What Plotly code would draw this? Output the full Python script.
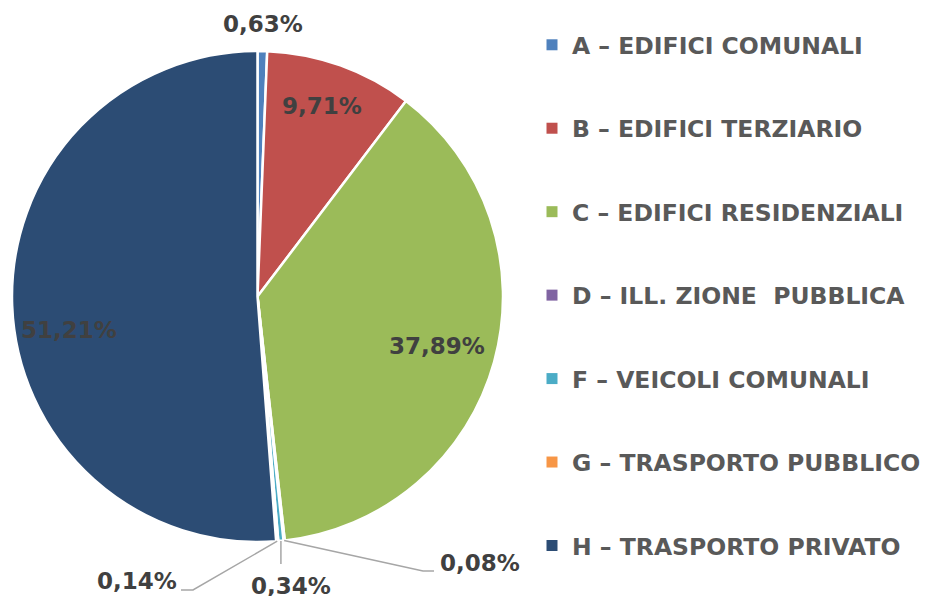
import math
import plotly.graph_objects as go

# data
categories = ['A – EDIFICI COMUNALI', 'B – EDIFICI TERZIARIO', 'C – EDIFICI RESIDENZIALI',
              'D – ILL. ZIONE  PUBBLICA', 'F – VEICOLI COMUNALI', 'G – TRASPORTO PUBBLICO',
              'H – TRASPORTO PRIVATO']
shares = [0.63, 9.71, 37.89, 0.08, 0.34, 0.14, 51.21]
colors = ['#4F81BD', '#C0504D', '#9BBB59', '#8064A2', '#4BACC6', '#F79646', '#2C4C74']

W, H = 927, 596
cx, cy, R = 257.5, 296.5, 245.5
FONT = 'DejaVu Sans'
TXT = '#404040'


def px(x):
    return x / W


def py(y):
    return 1 - y / H


def pct(v):
    return f"{v:.2f}".replace('.', ',') + '%'


fig = go.Figure()
fig.add_trace(go.Pie(
    labels=categories, values=shares, sort=False, direction='clockwise', rotation=0,
    marker=dict(colors=colors, line=dict(color='white', width=2.5)),
    textinfo='none', showlegend=False,
    domain=dict(x=[px(cx - R), px(cx + R)], y=[py(cy + R), py(cy - R)]),
    hovertemplate='%{label}: %{value}%<extra></extra>'))

# legend entries (dummy traces so the entry spacing can be set)
for i, (c, col) in enumerate(zip(categories, colors)):
    fig.add_trace(go.Scatter(x=[None], y=[None], mode='markers', name=c,
                             legendgroup=f'g{i}',
                             marker=dict(symbol='square', size=11, color=col)))

# mid angle of every slice, clockwise from 12 o'clock
tot = sum(shares)
mids = []
acc = 0
for v in shares:
    mids.append((acc + v / 2) / tot * 2 * math.pi)
    acc += v


def at(i, f, turn=0.0):
    a = mids[i] + math.radians(turn)
    return cx + R * f * math.sin(a), cy - R * f * math.cos(a)


annotations = []
shapes = []


def label(x, y, text, xanchor='center'):
    annotations.append(dict(x=px(x), y=py(y), text=text, xanchor=xanchor, yanchor='middle',
                            font=dict(family=FONT, size=23, color=TXT, weight='bold'),
                            showarrow=False, xref='paper', yref='paper'))


# big slices: labels inside
for i, f, t in [(1, 0.82, -1), (2, 0.76, 0), (6, 0.78, -8)]:
    x, y = at(i, f, t)
    label(x, y, pct(shares[i]))

# A: just outside the top
x, y = at(0, 1.11)
label(x, y, pct(shares[0]))

# tiny slices at the bottom with leader lines
line = dict(color='#A6A6A6', width=1.5)
# D
ex, ey = at(3, 1.0)
shapes.append(dict(type='path', xref='paper', yref='paper', line=line,
                   path=f"M {px(ex)},{py(ey)} L {px(423)},{py(571)} L {px(434)},{py(571)}"))
label(438, 563, pct(shares[3]), 'left')
# F
ex, ey = at(4, 1.0)
shapes.append(dict(type='path', xref='paper', yref='paper', line=line,
                   path=f"M {px(ex)},{py(ey)} L {px(ex)},{py(564)}"))
label(ex + 10, 586, pct(shares[4]))
# G
ex, ey = at(5, 1.0)
shapes.append(dict(type='path', xref='paper', yref='paper', line=line,
                   path=f"M {px(ex)},{py(ey)} L {px(193)},{py(590)} L {px(181)},{py(590)}"))
label(179, 581, pct(shares[5]), 'right')

fig.update_layout(
    width=W, height=H, margin=dict(l=0, r=0, t=0, b=0, autoexpand=False),
    paper_bgcolor='white', plot_bgcolor='white',
    xaxis=dict(visible=False), yaxis=dict(visible=False),
    annotations=annotations, shapes=shapes,
    legend=dict(x=px(532), y=py(23), xanchor='left', yanchor='top',
                font=dict(family=FONT, size=23.5, color='#595959', weight='bold'),
                tracegroupgap=49.9, itemclick=False, bgcolor='rgba(0,0,0,0)'),
)

fig.write_html("out.html", config={'displayModeBar': False},
               post_script="document.body.style.margin='0';")
